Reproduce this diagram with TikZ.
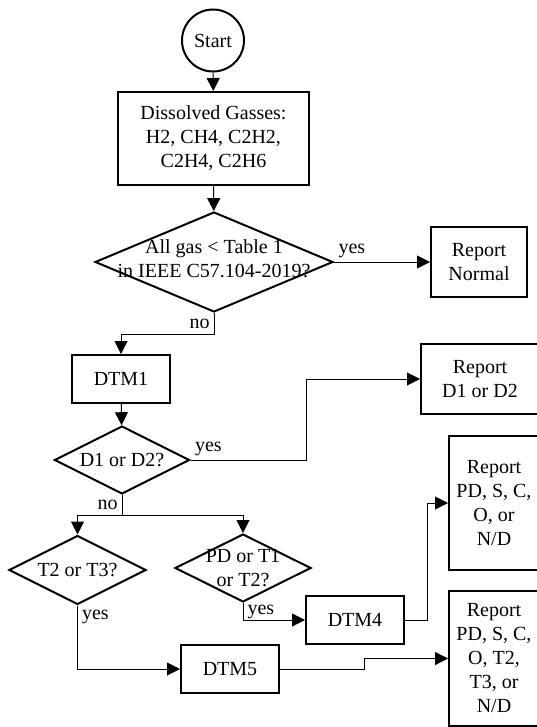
\documentclass[tikz,border=0pt]{standalone}
\usepackage{fontspec}
\setmainfont{Liberation Serif}
\usepackage{tikz}
\usetikzlibrary{arrows.meta,positioning,calc,shapes.geometric}

\begin{document}
\begin{tikzpicture}[
    x=0.5pt, y=-0.5pt,
    font=\fontsize{10}{12}\selectfont,
    startnode/.style={
        circle,
        draw=black,
        line width=1pt,
        minimum size=31pt,
        inner sep=0pt,
    },
    stepbox/.style={
        draw=black,
        line width=1pt,
        align=center,
        inner sep=2pt,
    },
    decide/.style={
        diamond,
        draw=black,
        line width=1pt,
        inner sep=0pt,
    },
    flowarrow/.style={
        -{Triangle[length=6.5pt,width=6.5pt]},
        line width=0.5pt,
        color=black,
    },
    answer/.style={
        inner sep=2pt,
    },
]
\useasboundingbox (0,0) rectangle (536,727);

\node[startnode] (start) at (213,40.5) {Start};

\node[stepbox,minimum width=95.5pt,minimum height=46.5pt] (gas) at (213.5,138.5) {%
    Dissolved Gasses:\\H2, CH4, C2H2,\\C2H4, C2H6};

\node[decide,minimum width=119pt,minimum height=50pt,
    label={[align=center,yshift=1.5pt]center:All gas < Table 1\\in IEEE C57.104-2019?}] (chk) at (214,262) {};

\node[stepbox,minimum width=48pt,minimum height=35pt] (normal) at (479,262) {Report\\Normal};

\node[stepbox,minimum width=49pt,minimum height=24pt] (dtm1) at (121,379) {DTM1};

\node[decide,minimum width=67.5pt,minimum height=34pt,
    label={center:D1 or D2?}] (d12) at (122,460) {};

\node[stepbox,minimum width=59pt,minimum height=35pt] (rd12) at (480,379) {Report\\D1 or D2};

\node[decide,minimum width=68.5pt,minimum height=34.5pt,
    label={center:T2 or T3?}] (t23) at (77.5,570) {};

\node[decide,minimum width=68pt,minimum height=34pt,
    label={[align=center]center:PD or T1\\or T2?}] (pdt) at (243,568) {};

\node[stepbox,minimum width=49pt,minimum height=24pt] (dtm4) at (355,620) {DTM4};
\node[stepbox,minimum width=49pt,minimum height=24pt] (dtm5) at (230,669) {DTM5};

\node[stepbox,minimum width=45pt,minimum height=67pt] (rpd) at (494,503) {%
    Report\\PD, S, C,\\O, or\\N/D};

\node[stepbox,minimum width=45pt,minimum height=67.5pt] (rall) at (494,658.5) {%
    Report\\PD, S, C,\\O, T2,\\T3, or\\N/D};

\draw[flowarrow] (start) -- (gas);
\draw[flowarrow] (gas) -- (chk);
\draw[flowarrow] (chk.east) -- node[answer,pos=0,anchor=south west] {yes} (normal);
\draw[flowarrow] (chk.south) -- node[answer,left] {no} ++(0,21) -| (dtm1);

\draw[flowarrow] (dtm1) -- (d12);
\draw[flowarrow] (d12.east) -- node[answer,pos=0,anchor=south west] {yes} ++(116,0) |- (rd12);
\draw (d12.south) -- node[answer,left] {no} ++(0,20) coordinate (split);
\draw[flowarrow] (split) -| (t23);
\draw[flowarrow] (split) -| (pdt);

\draw[flowarrow] (pdt.south) |- node[answer,pos=0.25,right] {yes} (dtm4);
\draw[flowarrow] (t23.south) |- node[answer,pos=0,below right] {yes} (dtm5);

\draw[flowarrow] (dtm4.east) -- ++(22,0) |- (rpd);
\draw[flowarrow] (dtm5.east) -- ++(84,0) |- (rall);
\end{tikzpicture}
\end{document}
